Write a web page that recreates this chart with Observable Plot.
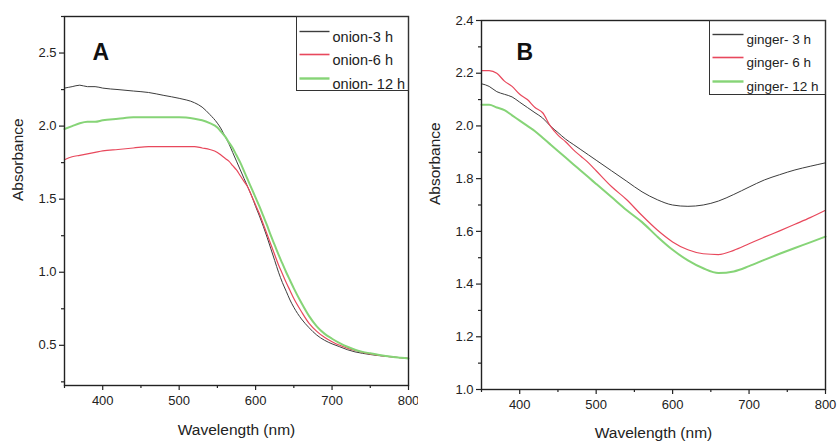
<!DOCTYPE html>
<html><head><meta charset="utf-8">
<script src="https://cdn.jsdelivr.net/npm/d3@7"></script>
<script src="https://cdn.jsdelivr.net/npm/@observablehq/plot@0.6"></script>
<style>
body{margin:0;background:#fff;}
#wrap{display:flex;width:838px;height:447px;overflow:hidden;}
#wrap svg{display:block;flex:none;}
</style></head><body><div id="wrap"></div>
<script>
// ---------- Panel A : onion ----------
const wavelengthA = [350,360,370,380,390,400,420,440,460,480,500,520,530,540,550,555,560,565,570,575,580,585,590,595,600,605,610,615,620,625,630,635,640,645,650,660,670,680,690,700,710,720,730,740,750,760,770,780,790,800];
const onion3h  = [2.26,2.27,2.28,2.27,2.27,2.26,2.25,2.24,2.23,2.21,2.19,2.16,2.13,2.08,2.02,1.98,1.93,1.88,1.82,1.76,1.70,1.64,1.58,1.52,1.45,1.385,1.315,1.24,1.16,1.08,1.00,0.93,0.87,0.81,0.76,0.68,0.62,0.57,0.535,0.51,0.49,0.47,0.455,0.445,0.437,0.43,0.425,0.42,0.415,0.41];
const onion6h  = [1.77,1.79,1.80,1.81,1.82,1.83,1.84,1.85,1.86,1.86,1.86,1.86,1.85,1.84,1.82,1.80,1.78,1.76,1.73,1.70,1.66,1.62,1.58,1.52,1.46,1.40,1.33,1.26,1.19,1.12,1.05,0.99,0.93,0.875,0.82,0.73,0.65,0.595,0.555,0.525,0.50,0.48,0.465,0.452,0.442,0.433,0.426,0.42,0.415,0.41];
const onion12h = [1.98,2.00,2.02,2.03,2.03,2.04,2.05,2.06,2.06,2.06,2.06,2.05,2.04,2.02,1.99,1.96,1.93,1.89,1.85,1.80,1.75,1.69,1.63,1.57,1.51,1.45,1.385,1.32,1.25,1.185,1.12,1.06,1.00,0.945,0.89,0.79,0.70,0.63,0.58,0.545,0.515,0.49,0.47,0.455,0.445,0.435,0.427,0.42,0.415,0.41];
const namesA = ["onion-3 h","onion-6 h","onion- 12 h"];
const yTicksA = [0.5,1.0,1.5,2.0,2.5];
const yMinorA = [0.25,0.75,1.25,1.75,2.25,2.75];

// ---------- Panel B : ginger ----------
const wavelengthB = [350,360,370,380,390,400,410,420,430,440,450,460,470,480,490,500,520,540,560,580,600,620,640,660,680,700,720,740,760,780,800];
const ginger3h  = [2.16,2.15,2.13,2.12,2.11,2.09,2.07,2.05,2.03,2.00,1.975,1.95,1.93,1.91,1.89,1.87,1.83,1.79,1.75,1.72,1.70,1.695,1.70,1.715,1.74,1.768,1.795,1.815,1.833,1.847,1.86];
const ginger6h  = [2.21,2.21,2.20,2.17,2.15,2.12,2.10,2.07,2.05,2.00,1.965,1.94,1.91,1.885,1.86,1.83,1.77,1.72,1.66,1.605,1.56,1.53,1.515,1.512,1.528,1.553,1.578,1.602,1.627,1.652,1.68];
const ginger12h = [2.08,2.08,2.07,2.06,2.04,2.02,2.00,1.98,1.955,1.93,1.905,1.88,1.855,1.83,1.805,1.78,1.73,1.68,1.635,1.58,1.53,1.49,1.46,1.442,1.448,1.468,1.492,1.515,1.537,1.558,1.58];
const namesB = ["ginger- 3 h","ginger- 6 h","ginger- 12 h"];
const yTicksB = [1.0,1.2,1.4,1.6,1.8,2.0,2.2,2.4];
const yMinorB = [1.1,1.3,1.5,1.7,1.9,2.1,2.3];

const xTicks = [400,500,600,700,800];
const xMinor = [350,450,550,650,750];
const seriesColors = ["#3d3d3d","#e8485c","#86d477"];
const seriesWidths = [1,1.2,2];

const INK = "#222";
const NARROW = "'Liberation Sans Narrow','Arial Narrow','Liberation Sans',Arial,sans-serif";
const SANS = "'Liberation Sans',Arial,sans-serif";

function panel(cfg) {
  const {width, margins, yDomain, yTicks, yMinor, wl, series, names, letter, L} = cfg;
  const [mt, mr, mb, ml] = margins;
  const innerW = width - ml - mr, innerH = 447 - mt - mb;
  const marks = [];
  series.forEach((vals, i) => {
    const rows = wl.map((w, j) => ({w, v: vals[j]}));
    marks.push(Plot.line(rows, {x: "w", y: "v", stroke: seriesColors[i], strokeWidth: seriesWidths[i], curve: "monotone-x"}));
  });
  marks.push(Plot.frame({stroke: INK, strokeWidth: 1.4}));
  marks.push(Plot.axisY(yTicks, {tickSize: 5, tickPadding: 3, tickFormat: d3.format(".1f"), fontSize: 13, label: null, stroke: INK, fill: INK, strokeWidth: 1.2, fontFamily: SANS}));
  marks.push(Plot.axisY(yMinor, {tickSize: 3, tickFormat: () => "", label: null, stroke: INK, strokeWidth: 1.2}));
  marks.push(Plot.axisX(xTicks, {tickSize: 5, tickPadding: 5, fontSize: 13, label: null, stroke: INK, fill: INK, strokeWidth: 1.2, fontFamily: SANS}));
  marks.push(Plot.axisX(xMinor, {tickSize: 3, tickFormat: () => "", label: null, stroke: INK, strokeWidth: 1.2}));
  marks.push(Plot.text(["Wavelength (nm)"], {text: d => d, frameAnchor: "bottom", dy: cfg.xLabelDy, fontSize: 15.5, fill: INK, fontFamily: SANS}));
  marks.push(Plot.text(["Absorbance"], {text: d => d, frameAnchor: "left", dx: -46, rotate: -90, fontSize: 15.5, fill: INK, fontFamily: SANS}));
  marks.push(Plot.text([letter.text], {text: d => d, frameAnchor: "top-left", dx: letter.dx, dy: letter.dy, textAnchor: "start", fontSize: 23, fontWeight: "bold", fill: "#111", fontFamily: SANS}));
  // legend box
  marks.push(Plot.frame({stroke: "#333", strokeWidth: 1, insetLeft: L.boxLeft, insetBottom: innerH - L.boxBottom}));
  names.forEach((name, i) => {
    const ry = L.rows[i];
    marks.push(Plot.frame({fill: seriesColors[i], stroke: null, insetLeft: L.sampleLeft, insetRight: innerW - L.sampleRight, insetTop: ry - seriesWidths[i] / 2 - 0.2, insetBottom: innerH - ry - seriesWidths[i] / 2 - 0.2}));
    marks.push(Plot.text([name], {text: d => d, frameAnchor: "top-left", dx: L.textLeft, dy: ry, textAnchor: "start", fontSize: L.fontSize, fill: INK, fontFamily: NARROW}));
  });
  return Plot.plot({
    width, height: 447,
    marginTop: mt, marginRight: mr, marginBottom: mb, marginLeft: ml,
    x: {domain: [350, 800]},
    y: {domain: yDomain},
    style: {background: "#fff", color: INK, fontFamily: SANS},
    marks
  });
}

const wrap = document.getElementById("wrap");
wrap.appendChild(panel({
  width: 418, margins: [16, 10, 62, 64],
  yDomain: [0.225, 2.75], yTicks: yTicksA, yMinor: yMinorA,
  wl: wavelengthA, series: [onion3h, onion6h, onion12h], names: namesA,
  xLabelDy: 49,
  letter: {text: "A", dx: 28, dy: 27},
  L: {boxLeft: 232, boxBottom: 74, sampleLeft: 235, sampleRight: 265, textLeft: 268, rows: [15, 38, 62], fontSize: 14.5}
}));
wrap.appendChild(panel({
  width: 420, margins: [20, 13, 58, 63],
  yDomain: [1.0, 2.4], yTicks: yTicksB, yMinor: yMinorB,
  wl: wavelengthB, series: [ginger3h, ginger6h, ginger12h], names: namesB,
  xLabelDy: 48,
  letter: {text: "B", dx: 35, dy: 23},
  L: {boxLeft: 228, boxBottom: 74, sampleLeft: 231, sampleRight: 262, textLeft: 265, rows: [14, 37, 61], fontSize: 13.5}
}));
</script></body></html>
